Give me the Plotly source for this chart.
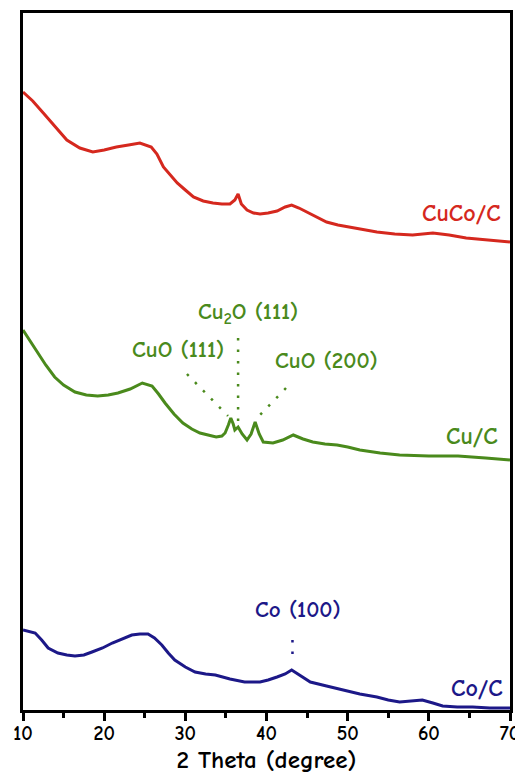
import plotly.graph_objects as go

# CuCo/C (red) trace: 2theta (deg), intensity (offset arbitrary units)
cuco_x = [10, 11.2, 12.5, 14.0, 15.4, 17.0, 18.6, 20.0, 21.5, 23.0, 24.4, 25.8, 26.5, 27.3, 28.2, 29.0, 30.0,
          31.0, 32.2, 33.4, 34.5, 35.5, 36.1, 36.5, 36.9, 37.6, 38.4, 39.2, 40.2, 41.3, 42.3, 43.1, 44.0,
          45.0, 46.2, 47.4, 48.8, 50.3, 52.0, 53.6, 55.8, 58.0, 60.5, 62.5, 64.6, 67.0, 70.0]
cuco_y = [618, 609, 597, 583, 570, 562, 558, 560, 563, 565, 567, 563, 556, 543, 535, 527, 520,
          513, 509, 507, 506, 506, 510, 516, 506, 500, 497, 496, 497, 499, 503, 505, 502,
          498, 493, 488, 485, 483, 480, 478, 476, 475, 477, 475, 472, 470, 468]

# Cu/C (green) trace
cu_x = [10, 10.8, 11.8, 12.8, 13.9, 15.0, 16.4, 17.8, 19.2, 20.5, 21.7, 23.2, 24.7, 25.9, 26.7, 27.5, 28.6,
        29.7, 30.8, 31.8, 32.8, 33.8, 34.5, 34.9, 35.3, 35.6, 35.9, 36.1, 36.5, 37.0, 37.6, 38.1, 38.6,
        39.1, 39.6, 40.8, 42.0, 43.3, 44.5, 45.7, 47.2, 48.7, 50.0, 51.5, 54.0, 56.4, 60.0, 63.6, 67.0, 70.0]
cu_y = [380, 370, 357, 345, 333, 325, 318, 315, 314, 315, 317, 321, 327, 324, 316, 307, 296,
        287, 281, 277, 275, 273, 274, 277, 285, 292, 286, 280, 283, 276, 270, 276, 288,
        276, 268, 267, 270, 275, 271, 268, 266, 265, 263, 260, 257, 255, 254, 254, 252, 250]

# Co/C (blue) trace
co_x = [10, 11.5, 12.3, 13.1, 14.3, 15.4, 16.4, 17.5, 18.5, 19.8, 21.0, 22.2, 23.4, 24.4, 25.4, 26.2,
        27.1, 27.9, 28.7, 30.0, 31.2, 32.5, 33.7, 35.5, 37.3, 39.2, 40.2, 41.3, 42.3, 43.1, 44.2,
        45.4, 47.4, 49.4, 51.5, 53.6, 55.0, 56.4, 58.0, 59.2, 60.5, 61.7, 63.5, 65.4, 67.5, 70.0]
co_y = [80, 77, 70, 62, 57, 55, 54, 55, 58, 62, 67, 71, 75, 76, 76, 72,
        65, 57, 50, 43, 38, 36, 35, 31, 28, 28, 30, 33, 36, 40, 34,
        28, 24, 20, 16, 13, 10, 8, 9, 10, 7, 4, 3, 3, 2, 2]

# Peak marker guides (dotted): x pairs, y pairs
cu2o_x = [36.5, 36.5]
cu2o_y = [372, 288]
cuo111_x = [30.2, 35.25]
cuo111_y = [336, 294]
cuo200_x = [42.4, 38.95]
cuo200_y = [322, 293]
co100_x = [43.2, 43.2]
co100_y = [70, 55]

x_ticks = [10, 20, 30, 40, 50, 60, 70]

RED = "#d5281e"
GREEN = "#4a8a1c"
BLUE = "#1c1888"
FONT = "Comic Sans MS, Comic Neue, Noto Sans, DejaVu Sans"

fig = go.Figure()
for xs, ys, c in [(cuco_x, cuco_y, RED), (cu_x, cu_y, GREEN), (co_x, co_y, BLUE)]:
    fig.add_trace(go.Scatter(x=xs, y=ys, mode="lines", line=dict(color=c, width=3),
                             showlegend=False, hoverinfo="skip"))

for xs, ys, c in [(cu2o_x, cu2o_y, GREEN), (cuo111_x, cuo111_y, GREEN),
                  (cuo200_x, cuo200_y, GREEN), (co100_x, co100_y, BLUE)]:
    fig.add_trace(go.Scatter(x=xs, y=ys, mode="lines", line=dict(color=c, width=2.5, dash="2.5px,9px"),
                             showlegend=False, hoverinfo="skip"))

labels = [
    ("<b>CuCo/C</b>", 69.1, 497, "right", RED, 24),
    ("<b>Cu/C</b>", 68.8, 274, "right", GREEN, 24),
    ("<b>Co/C</b>", 69.4, 22, "right", BLUE, 24),
    ("<b>Cu<sub>2</sub>O (111)</b>", 37.7, 397, "center", GREEN, 23),
    ("<b>CuO (111)</b>", 29.1, 361, "center", GREEN, 23),
    ("<b>CuO (200)</b>", 47.45, 350, "center", GREEN, 23),
    ("<b>Co (100)</b>", 43.9, 101, "center", BLUE, 23),
]
for txt, x, y, xa, c, s in labels:
    fig.add_annotation(x=x, y=y, text=txt, showarrow=False, xanchor=xa, yanchor="middle",
                       font=dict(family=FONT, size=s, color=c))

# page body has an 8px default margin: figure is sized so it fits the 523x782 window
fig.update_layout(
    width=515, height=774,
    margin=dict(l=15, r=13, t=5, b=72, autoexpand=False),
    paper_bgcolor="white", plot_bgcolor="white",
    font=dict(family=FONT, color="black"),
    xaxis=dict(range=[10, 70], tickvals=x_ticks, ticktext=[f"<b>{v}</b>" for v in x_ticks],
               ticks="outside", ticklen=8, tickwidth=2.5, ticklabelstandoff=-5,
               tickcolor="black", showline=True, linewidth=2.5, linecolor="black", mirror=True,
               showgrid=False, zeroline=False, automargin=False,
               tickfont=dict(size=20, family=FONT),
               minor=dict(dtick=5, ticks="outside", ticklen=5, tickwidth=2.5, tickcolor="black"),
               title=dict(text="<b>2 Theta (degree)</b>", font=dict(size=25, family=FONT),
                          standoff=4)),
    yaxis=dict(range=[0, 697], showticklabels=False, ticks="", showline=True, linewidth=2.5,
               linecolor="black", mirror=True, showgrid=False, zeroline=False, automargin=False),
)

fig.write_html("out.html")
